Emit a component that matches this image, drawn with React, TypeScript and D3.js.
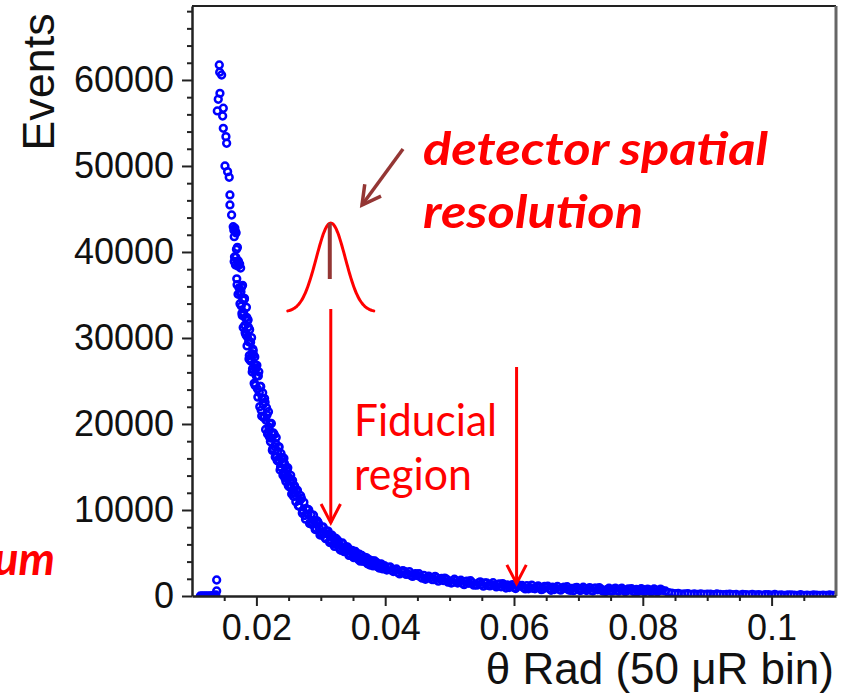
import React, { useEffect, useRef } from "react";
import * as d3 from "d3";

// axis ticks
const xTicks = [0.02, 0.04, 0.06, 0.08, 0.1];
const xTickLabels = ["0.02", "0.04", "0.06", "0.08", "0.1"];
const xMinorTicks = [0.015, 0.025, 0.03, 0.035, 0.045, 0.05, 0.055, 0.065, 0.07, 0.075, 0.085, 0.09, 0.095, 0.105];
const yTicks = [0, 10000, 20000, 30000, 40000, 50000, 60000];
const yTickLabels = ["0", "10000", "20000", "30000", "40000", "50000", "60000"];
const yMinorTicks = [2000, 4000, 6000, 8000, 12000, 14000, 16000, 18000, 22000, 24000, 26000, 28000,
  32000, 34000, 36000, 38000, 42000, 44000, 46000, 48000, 52000, 54000, 56000, 58000,
  62000, 64000, 66000, 68000];

// [theta (rad), events]
const lowBins = [[0.0113, 0], [0.0116, 0], [0.0119, 0], [0.0122, 0], [0.0125, 0], [0.0128, 0],
  [0.0131, 30], [0.0134, 60], [0.0137, 120], [0.01383, 580], [0.01383, 1860]];

const peakCluster = [[0.01424, 61740], [0.01460, 60580], [0.01430, 60900], [0.01434, 58450],
  [0.01408, 57760], [0.01486, 56710], [0.01393, 56400], [0.01476, 55810], [0.01486, 54380],
  [0.01527, 53410], [0.01538, 52640], [0.01512, 50000], [0.01553, 49340], [0.01578, 48690],
  [0.01589, 46630], [0.01589, 45470], [0.01615, 44300], [0.01640, 42940], [0.01656, 41780]];

const steepBand = [[0.0165, 42530], [0.0166, 39420], [0.0167, 42440], [0.0168, 39380], [0.0169, 40310],
  [0.0170, 36190], [0.0171, 38360], [0.0172, 38960], [0.0173, 35830], [0.0174, 38610], [0.0175, 35180],
  [0.0176, 35380], [0.0177, 35910], [0.0178, 32620], [0.0179, 34500], [0.0180, 32970], [0.0181, 34510],
  [0.0182, 31470], [0.0183, 32330], [0.0184, 30320], [0.0185, 32400], [0.0186, 30110], [0.0187, 32110],
  [0.0188, 29560], [0.0189, 27960], [0.0190, 29580], [0.0191, 29490], [0.0192, 27410], [0.0193, 28170],
  [0.0194, 26420], [0.0195, 28510], [0.0196, 26240], [0.0197, 26940], [0.0198, 24480], [0.0199, 26440],
  [0.0200, 25550]];

const steepFill = [[0.01655, 38897], [0.01665, 42777], [0.01675, 38496], [0.01685, 42222], [0.01695, 36879],
  [0.01705, 40534], [0.01715, 35080], [0.01725, 38688], [0.01735, 38514], [0.01745, 33990], [0.01755, 38135],
  [0.01765, 33715], [0.01775, 32870], [0.01785, 36125], [0.01795, 31211], [0.01805, 34408], [0.01815, 34614],
  [0.01825, 30614], [0.01835, 30523], [0.01845, 33561], [0.01855, 29079], [0.01865, 32030], [0.01875, 31278],
  [0.01885, 27570], [0.01895, 30968], [0.01905, 27374], [0.01915, 27307], [0.01925, 30040], [0.01935, 26043],
  [0.01945, 28702], [0.01955, 28044], [0.01965, 24733], [0.01975, 27799], [0.01985, 24562], [0.01995, 26504]];

const kneeBand = [[0.02015, 24090], [0.0203, 25590], [0.02045, 23670], [0.0206, 24380], [0.02075, 21600],
  [0.0209, 22960], [0.02105, 22290], [0.0212, 20790], [0.02135, 22530], [0.0215, 20430], [0.02165, 21060],
  [0.0218, 19040], [0.02195, 19635], [0.0221, 20040], [0.02225, 18360], [0.0224, 18950], [0.02255, 17140],
  [0.0227, 18780], [0.02285, 17370], [0.023, 17720], [0.02315, 16240], [0.0233, 16800], [0.02345, 17330],
  [0.0236, 15740], [0.02375, 14990], [0.0239, 15950], [0.02405, 15520], [0.0242, 14360], [0.02435, 15440],
  [0.0245, 14310], [0.02465, 13770], [0.0248, 14500], [0.02495, 12860], [0.0251, 13720], [0.02525, 13360],
  [0.0254, 12740], [0.02555, 13410], [0.0257, 12050], [0.02585, 12690], [0.026, 11980]];

const kneeFill = [[0.020075, 26823], [0.020225, 23127], [0.020375, 26069], [0.020525, 22016], [0.020675, 24368],
  [0.020825, 20924], [0.020975, 23625], [0.021125, 20770], [0.021275, 22960], [0.021425, 19369],
  [0.021575, 21887], [0.021725, 18826], [0.021875, 21425], [0.022025, 18480], [0.022175, 17952],
  [0.022325, 20066], [0.022475, 16935], [0.022625, 18966], [0.022775, 18781], [0.022925, 16157],
  [0.023075, 18423], [0.023225, 15767], [0.023375, 15664], [0.023525, 17337], [0.023675, 14645],
  [0.023825, 16571], [0.023975, 16121], [0.024125, 14032], [0.024275, 16020], [0.024425, 13703],
  [0.024575, 13320], [0.024725, 14771], [0.024875, 14918], [0.025025, 12754], [0.025175, 12671],
  [0.025325, 14031], [0.025475, 11857], [0.025625, 13423], [0.025775, 11567], [0.025925, 12824]];

const midBand = [[0.02625, 12170], [0.0265, 10510], [0.02675, 11120], [0.027, 11340], [0.02725, 9920],
  [0.0275, 9350], [0.02775, 10160], [0.028, 9490], [0.02825, 8440], [0.0285, 9490], [0.02875, 8550],
  [0.029, 8760], [0.02925, 7890], [0.0295, 8670], [0.02975, 7900], [0.03, 7390], [0.03025, 7980],
  [0.0305, 7280], [0.03075, 6670], [0.031, 7210], [0.03125, 7190], [0.0315, 6500], [0.03175, 7070],
  [0.032, 6020], [0.03225, 6320], [0.0325, 6000], [0.03275, 6230], [0.033, 5380], [0.03325, 6130],
  [0.0335, 5540], [0.03375, 5260], [0.034, 5460], [0.03425, 5550], [0.0345, 4870], [0.03475, 5160],
  [0.035, 4560], [0.03525, 5040], [0.0355, 4700], [0.03575, 4460], [0.036, 4860], [0.03625, 4150],
  [0.0365, 4410], [0.03675, 4410], [0.037, 4070], [0.03725, 3750], [0.0375, 4240], [0.03775, 3960],
  [0.038, 3660], [0.03825, 4040], [0.0385, 3590], [0.03875, 3730], [0.039, 3340], [0.03925, 3660],
  [0.0395, 3390], [0.03975, 3430], [0.04, 3170]];

const midFill = [[0.026125, 10950], [0.026375, 12305], [0.026625, 10434], [0.026875, 11663], [0.027125, 9637],
  [0.027375, 10894], [0.027625, 8929], [0.027875, 10109], [0.028125, 10030], [0.028375, 8428],
  [0.028625, 8307], [0.028875, 9387], [0.029125, 7728], [0.029375, 8774], [0.029625, 8480],
  [0.029875, 7098], [0.030125, 7079], [0.030375, 8032], [0.030625, 6826], [0.030875, 7583],
  [0.031125, 7548], [0.031375, 6233], [0.031625, 6161], [0.031875, 6864], [0.032125, 5761],
  [0.032375, 6688], [0.032625, 6480], [0.032875, 5564], [0.033125, 5324], [0.033375, 6172],
  [0.033625, 5149], [0.033875, 5737], [0.034125, 5718], [0.034375, 4715], [0.034625, 4764],
  [0.034875, 5303], [0.035125, 4462], [0.035375, 5178], [0.035625, 4929], [0.035875, 4232],
  [0.036125, 4055], [0.036375, 4717], [0.036625, 4024], [0.036875, 4488], [0.037125, 4441],
  [0.037375, 3754], [0.037625, 3605], [0.037875, 4120], [0.038125, 3507], [0.038375, 4073],
  [0.038625, 3918], [0.038875, 3372], [0.039125, 3237], [0.039375, 3732], [0.039625, 3156],
  [0.039875, 3531]];

const tailBand = [[0.0405, 3310], [0.041, 2990], [0.0415, 3020], [0.042, 2720], [0.0425, 2860],
  [0.043, 2850], [0.0435, 2575], [0.044, 2400], [0.0445, 2545], [0.045, 2380], [0.0455, 2200],
  [0.046, 2400], [0.0465, 2115], [0.047, 2140], [0.0475, 1900], [0.048, 2090], [0.0485, 1985],
  [0.049, 1800], [0.0495, 1970], [0.05, 1760], [0.0505, 1567], [0.051, 1775], [0.0515, 1662],
  [0.052, 1490], [0.0525, 1702], [0.053, 1485], [0.0535, 1557], [0.054, 1320], [0.0545, 1537],
  [0.055, 1365], [0.0555, 1512], [0.056, 1230], [0.0565, 1322], [0.057, 1215], [0.0575, 1337],
  [0.058, 1070], [0.0585, 1235], [0.059, 1290], [0.0595, 1135], [0.06, 990], [0.0605, 1170],
  [0.061, 1180], [0.0615, 970], [0.062, 1200], [0.0625, 982], [0.063, 885], [0.0635, 1037],
  [0.064, 990], [0.0645, 805], [0.065, 1050], [0.0655, 855], [0.066, 1040], [0.0665, 877],
  [0.067, 785], [0.0675, 952], [0.068, 890], [0.0685, 709], [0.069, 898], [0.0695, 946],
  [0.07, 765], [0.0705, 695], [0.071, 885], [0.0715, 795], [0.072, 645], [0.0725, 906],
  [0.073, 727], [0.0735, 819], [0.074, 650], [0.0745, 772], [0.075, 605], [0.0755, 817],
  [0.076, 650], [0.0765, 834], [0.077, 717], [0.0775, 591], [0.078, 745], [0.0785, 550],
  [0.079, 765], [0.0795, 650], [0.08, 775], [0.0805, 581], [0.081, 707], [0.0815, 544],
  [0.082, 720], [0.0825, 605], [0.083, 670], [0.0835, 590], [0.084, 380], [0.0845, 340],
  [0.085, 260], [0.0855, 310], [0.086, 220], [0.0865, 254], [0.087, 277], [0.0875, 181],
  [0.088, 245], [0.0885, 199], [0.089, 252], [0.0895, 176], [0.09, 210], [0.0905, 226],
  [0.091, 152], [0.0915, 238], [0.092, 174], [0.0925, 150], [0.093, 196], [0.0935, 212],
  [0.094, 148], [0.0945, 174], [0.095, 110], [0.0955, 187], [0.096, 154], [0.0965, 121],
  [0.097, 188], [0.0975, 135], [0.098, 162], [0.0985, 99], [0.099, 146], [0.0995, 163],
  [0.1, 110], [0.1005, 177], [0.101, 94], [0.1015, 131], [0.102, 78], [0.1025, 135],
  [0.103, 142], [0.1035, 99], [0.104, 76], [0.1045, 143], [0.105, 80], [0.1055, 108],
  [0.106, 56], [0.1065, 124], [0.107, 112], [0.1075, 60], [0.108, 98], [0.1085, 66],
  [0.109, 124], [0.1095, 72], [0.11, 100]];

const tailFill = [[0.04025, 3015], [0.04075, 3385], [0.04125, 2850], [0.04175, 3140], [0.04225, 2565],
  [0.04275, 2935], [0.04325, 2507], [0.04375, 2832], [0.04425, 2272], [0.04475, 2587], [0.04525, 2585],
  [0.04575, 2075], [0.04625, 1947], [0.04675, 2322], [0.04725, 1910], [0.04775, 2290], [0.04825, 1722],
  [0.04875, 2057], [0.04925, 2075], [0.04975, 1615], [0.05025, 1508], [0.05075, 1946], [0.05125, 1513],
  [0.05175, 1831], [0.05225, 1311], [0.05275, 1723], [0.05325, 1776], [0.05375, 1268], [0.05425, 1263],
  [0.05475, 1651], [0.05525, 1148], [0.05575, 1536], [0.05625, 1166], [0.05675, 1538], [0.05725, 1051],
  [0.05775, 1393], [0.05825, 1437], [0.05875, 922], [0.05925, 987], [0.05975, 1332], [0.06025, 870],
  [0.06075, 1270], [0.06125, 1220], [0.06175, 830], [0.06225, 841], [0.06275, 1273], [0.06325, 836],
  [0.06375, 1188], [0.06425, 732], [0.06475, 1117], [0.06525, 1132], [0.06575, 667], [0.06625, 753],
  [0.06675, 1111], [0.06725, 678], [0.06775, 1026], [0.06825, 1084], [0.06875, 663], [0.06925, 622],
  [0.06975, 1010], [0.07025, 640], [0.07075, 1020], [0.07125, 630], [0.07175, 980], [0.07225, 580],
  [0.07275, 911], [0.07325, 963], [0.07375, 574], [0.07425, 536], [0.07475, 908], [0.07525, 561],
  [0.07575, 903], [0.07625, 557], [0.07675, 900], [0.07725, 514], [0.07775, 828], [0.07825, 852],
  [0.07875, 487], [0.07925, 522], [0.07975, 847], [0.08025, 503], [0.08075, 809], [0.08125, 485],
  [0.08175, 812], [0.08225, 507], [0.08275, 792]];

// fiducial region limits (theta)
const fiducialLow = 0.03155;
const fiducialHigh = 0.0604;

const W = 848, H = 696;
const margin = { left: 192, right: 12, top: 6, bottom: 100 };
const RED = "#ff0000";
const BROWN = "#943634";
const AXIS_FONT = "'Liberation Sans', Arial, Helvetica, sans-serif";
const NOTE_FONT = "Lato, 'Open Sans', sans-serif";

function drawArrow(g, x1, y1, x2, y2, color, width, head, spread) {
  g.append("line")
    .attr("x1", x1).attr("y1", y1).attr("x2", x2).attr("y2", y2)
    .attr("stroke", color).attr("stroke-width", width);
  const a = Math.atan2(y2 - y1, x2 - x1);
  const wing = (s) => [x2 - head * Math.cos(a + s), y2 - head * Math.sin(a + s)];
  const [l, r] = [wing(spread), wing(-spread)];
  g.append("path")
    .attr("d", `M${l[0]},${l[1]}L${x2},${y2}L${r[0]},${r[1]}`)
    .attr("fill", "none").attr("stroke", color).attr("stroke-width", width)
    .attr("stroke-linejoin", "miter");
}

export default function App() {
  const ref = useRef(null);

  useEffect(() => {
    const svg = d3.select(ref.current);
    svg.selectAll("*").remove();

    const x = d3.scaleLinear().domain([0.01, 0.11]).range([margin.left, W - margin.right]);
    const y = d3.scaleLinear().domain([0, 68600]).range([H - margin.bottom, margin.top]);
    const x0 = margin.left, x1 = W - margin.right, y0 = H - margin.bottom, y1 = margin.top;

    svg.append("defs").append("clipPath").attr("id", "plot-clip")
      .append("rect").attr("x", x0).attr("y", y1).attr("width", x1 - x0).attr("height", y0 - y1);

    // scatter
    const points = [...lowBins, ...peakCluster, ...steepBand, ...steepFill, ...kneeBand, ...kneeFill,
      ...midBand, ...midFill, ...tailBand, ...tailFill];
    svg.append("g").attr("clip-path", "url(#plot-clip)")
      .selectAll("circle")
      .data(points)
      .join("circle")
      .attr("cx", d => x(d[0]))
      .attr("cy", d => y(d[1]))
      .attr("r", 3.4)
      .attr("fill", "none")
      .attr("stroke", "#0000ff")
      .attr("stroke-width", 2.5);

    // frame
    svg.append("line").attr("x1", x0).attr("x2", x1).attr("y1", y1).attr("y2", y1)
      .attr("stroke", "#222").attr("stroke-width", 2);
    svg.append("line").attr("x1", x1).attr("x2", x1).attr("y1", y1).attr("y2", y0)
      .attr("stroke", "#666").attr("stroke-width", 3);

    // axes
    const styleAxis = (g) => {
      g.attr("font-family", AXIS_FONT).attr("font-size", 36);
      g.selectAll("text").attr("fill", "#111");
      g.selectAll("line").attr("stroke", "#222").attr("stroke-width", 2);
      g.select(".domain").attr("stroke", "#222").attr("stroke-width", 2.5);
    };

    svg.append("g").attr("transform", `translate(${x0},0)`)
      .call(d3.axisLeft(y).tickValues(yMinorTicks).tickSize(5).tickSizeOuter(0).tickFormat(() => ""))
      .call(styleAxis).call(g => g.select(".domain").remove());
    svg.append("g").attr("transform", `translate(${x0},0)`)
      .call(d3.axisLeft(y).tickValues(yTicks).tickSize(10).tickSizeOuter(0).tickPadding(8)
        .tickFormat((d, i) => yTickLabels[i]))
      .call(styleAxis);

    svg.append("g").attr("transform", `translate(0,${y0})`)
      .call(d3.axisBottom(x).tickValues(xMinorTicks).tickSize(5).tickSizeOuter(0).tickFormat(() => ""))
      .call(styleAxis).call(g => g.select(".domain").remove());
    svg.append("g").attr("transform", `translate(0,${y0})`)
      .call(d3.axisBottom(x).tickValues(xTicks).tickSize(10).tickSizeOuter(0).tickPadding(8)
        .tickFormat((d, i) => xTickLabels[i]))
      .call(styleAxis);

    // axis titles
    svg.append("text")
      .attr("transform", `translate(54,${(y1 + 150) / 2 + 4}) rotate(-90)`)
      .attr("text-anchor", "middle")
      .attr("font-family", AXIS_FONT).attr("font-size", 45).attr("fill", "#111")
      .text("Events");
    svg.append("text")
      .attr("x", 834).attr("y", 684)
      .attr("text-anchor", "end")
      .attr("font-family", AXIS_FONT).attr("font-size", 44).attr("fill", "#111")
      .text("θ Rad (50 μR bin)");

    // annotations
    const notes = svg.append("g");
    const cx = x(fiducialLow);

    // resolution gaussian
    const gx = d3.range(-43, 43.5, 1);
    const gauss = d3.line().curve(d3.curveBasis)
      .x(d => cx + d)
      .y(d => 312 - 89 * Math.exp(-(d * d) / (2 * 14.5 * 14.5)));
    notes.append("path").attr("d", gauss(gx))
      .attr("fill", "none").attr("stroke", RED).attr("stroke-width", 3).attr("stroke-linecap", "round");
    notes.append("line").attr("x1", cx - 1).attr("x2", cx - 1).attr("y1", 223).attr("y2", 279)
      .attr("stroke", BROWN).attr("stroke-width", 4);
    drawArrow(notes, 403, 149, 362, 205, BROWN, 3.5, 21, 0.5);

    // fiducial arrows
    drawArrow(notes, cx, 309, cx, y(7600) - 8, RED, 3, 21, 0.48);
    drawArrow(notes, x(fiducialHigh), 367, x(fiducialHigh), y(1450), RED, 3, 21, 0.48);

    const label = (txt, tx, ty, size, len, bold) =>
      notes.append("text")
        .attr("x", tx).attr("y", ty)
        .attr("font-family", NOTE_FONT).attr("font-size", size)
        .attr("font-weight", bold ? "bold" : "normal")
        .attr("font-style", bold ? "italic" : "normal")
        .attr("fill", RED)
        .attr("textLength", len).attr("lengthAdjust", "spacingAndGlyphs")
        .text(txt);

    label("detector spatial", 423, 165, 46, 345, true);
    label("resolution", 423, 228, 46, 220, true);
    label("Fiducial", 354, 436, 44, 143, false);
    label("region", 354, 490, 44, 118, false);
    notes.append("text")
      .attr("x", 55).attr("y", 575).attr("text-anchor", "end")
      .attr("font-family", NOTE_FONT).attr("font-size", 46)
      .attr("font-weight", "bold").attr("font-style", "italic")
      .attr("fill", RED)
      .text("um");
  }, []);

  return (
    <svg ref={ref} width={W} height={H}
      style={{ position: "absolute", left: 0, top: 0, background: "#fff" }} />
  );
}
